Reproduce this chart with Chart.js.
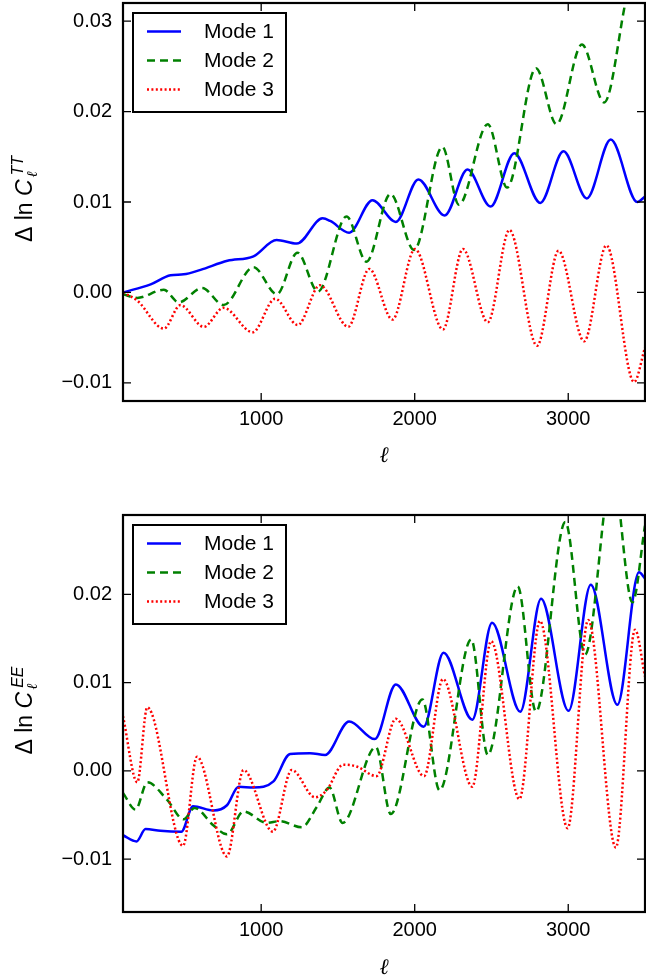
<!DOCTYPE html>
<html>
<head>
<meta charset="utf-8">
<script src="https://cdn.jsdelivr.net/npm/chart.js@4"></script>
<style>
  html, body { margin: 0; padding: 0; background: #fff; overflow: hidden; }
  #wrap { position: relative; width: 646px; height: 980px; overflow: hidden; }
  canvas { position: absolute; left: 0; }
  #ttChart { top: -22px; }
  #eeChart { top: 490px; }
</style>
</head>
<body>
<div id="wrap">
  <canvas id="ttChart" width="646" height="512"></canvas>
  <canvas id="eeChart" width="646" height="500"></canvas>
</div>
<script>
// tick labels
var xTicks = [1000, 2000, 3000];
var ttTicks = [-0.01, 0.00, 0.01, 0.02, 0.03];
var eeTicks = [-0.01, 0.00, 0.01, 0.02];
var modeNames = ['Mode 1', 'Mode 2', 'Mode 3'];

// TT panel (multipole l, delta ln C)
var ttMode1Ell = [100, 280, 410, 495, 605, 780, 950, 1100, 1232, 1400, 1450, 1573, 1725, 1877, 2024, 2195, 2344, 2494, 2649, 2818, 2969, 3121, 3277, 3450, 3500];
var ttMode1 = [0.0000, 0.0009, 0.0019, 0.0020, 0.0025, 0.0035, 0.0040, 0.0058, 0.0054, 0.0082, 0.0079, 0.0066, 0.0102, 0.0078, 0.0125, 0.0085, 0.0136, 0.0095, 0.0154, 0.0099, 0.0156, 0.0104, 0.0169, 0.0100, 0.0106];

var ttMode2Ell = [100, 193, 366, 463, 615, 755, 950, 1102, 1236, 1370, 1556, 1686, 1842, 1996, 2180, 2288, 2476, 2602, 2790, 2924, 3089, 3234, 3421, 3500];
var ttMode2 = [-0.0002, -0.0006, 0.0003, -0.0011, 0.0005, -0.0014, 0.0028, -0.0002, 0.0044, 0.0001, 0.0084, 0.0034, 0.0109, 0.0047, 0.0161, 0.0097, 0.0186, 0.0116, 0.0248, 0.0186, 0.0274, 0.0210, 0.0343, 0.0317];

var ttMode3Ell = [100, 193, 366, 474, 626, 755, 944, 1091, 1238, 1383, 1567, 1704, 1855, 2002, 2184, 2314, 2476, 2617, 2797, 2937, 3104, 3249, 3429, 3500];
var ttMode3 = [0.0000, -0.0009, -0.0040, -0.0014, -0.0038, -0.0017, -0.0044, -0.0007, -0.0036, 0.0008, -0.0038, 0.0026, -0.0030, 0.0048, -0.0041, 0.0048, -0.0033, 0.0069, -0.0059, 0.0046, -0.0054, 0.0052, -0.0099, -0.0061];

// EE panel
var eeMode1Ell = [100, 188, 247, 344, 480, 556, 690, 777, 853, 950, 1080, 1188, 1318, 1416, 1573, 1740, 1877, 2058, 2188, 2375, 2504, 2688, 2823, 3002, 3147, 3320, 3461, 3500];
var eeMode1 = [-0.0073, -0.0080, -0.0066, -0.0068, -0.0069, -0.0040, -0.0045, -0.0039, -0.0018, -0.0019, -0.0012, 0.0019, 0.0020, 0.0018, 0.0056, 0.0036, 0.0098, 0.0050, 0.0134, 0.0058, 0.0168, 0.0067, 0.0195, 0.0068, 0.0211, 0.0075, 0.0225, 0.0218];

var eeMode2Ell = [100, 182, 258, 388, 495, 565, 690, 777, 885, 1037, 1120, 1264, 1362, 1445, 1530, 1747, 1844, 2050, 2162, 2368, 2476, 2671, 2790, 2981, 3110, 3288, 3418, 3500];
var eeMode2 = [-0.0025, -0.0044, -0.0013, -0.0033, -0.0055, -0.0042, -0.0062, -0.0072, -0.0046, -0.0059, -0.0057, -0.0064, -0.0041, -0.0019, -0.0059, 0.0027, -0.0049, 0.0081, -0.0022, 0.0149, 0.0018, 0.0209, 0.0067, 0.0282, 0.0132, 0.0339, 0.0191, 0.0278];

var eeMode3Ell = [100, 193, 258, 491, 582, 777, 885, 1076, 1199, 1351, 1426, 1534, 1621, 1751, 1877, 2061, 2184, 2375, 2498, 2682, 2816, 2996, 3130, 3310, 3435, 3500];
var eeMode3 = [0.0062, -0.0013, 0.0072, -0.0085, 0.0016, -0.0097, 0.0001, -0.0069, 0.0001, -0.0030, -0.0022, 0.0007, 0.0005, -0.0006, 0.0059, -0.0006, 0.0104, -0.0018, 0.0147, -0.0032, 0.0170, -0.0065, 0.0171, -0.0087, 0.0160, 0.0107];

// line styles for the three modes
var modeColors = ['#0000ff', '#008000', '#ff0000'];
var modeDash = [[], [8, 5], [2, 2.4]];

function toPoints(ells, vals) {
    return ells.map(function(l, i) { return { x: l, y: vals[i] }; });
}

function makeSets(series) {
    return series.map(function(s, i) {
        return {
            label: modeNames[i],
            data: toPoints(s[0], s[1]),
            borderColor: modeColors[i],
            borderDash: modeDash[i],
            borderWidth: 2.5,
            borderCapStyle: 'butt',
            cubicInterpolationMode: 'monotone',
            pointRadius: 0,
            fill: false,
            clip: 0,
            order: 2 - i
        };
    });
}

function fmtTick(v) {
    return (v < 0 ? '\u2212' : '') + Math.abs(v).toFixed(2);
}

// frame with inward ticks, legend box and the y label
var panelPlugin = {
    id: 'panel',
    afterDatasetsDraw: function(chart, args, opts) {
        var ctx = chart.ctx, a = chart.chartArea;
        var xs = chart.scales.x, ys = chart.scales.y;
        ctx.save();
        ctx.strokeStyle = '#000';
        ctx.lineWidth = 1.3;
        ctx.beginPath();
        xs.ticks.forEach(function(t) {
            var px = xs.getPixelForValue(t.value);
            ctx.moveTo(px, a.bottom); ctx.lineTo(px, a.bottom - 8);
            ctx.moveTo(px, a.top); ctx.lineTo(px, a.top + 8);
        });
        ys.ticks.forEach(function(t) {
            var py = ys.getPixelForValue(t.value);
            ctx.moveTo(a.left, py); ctx.lineTo(a.left + 8, py);
            ctx.moveTo(a.right, py); ctx.lineTo(a.right - 8, py);
        });
        ctx.stroke();
        ctx.lineWidth = 2.2;
        ctx.strokeRect(a.left, a.top, a.right - a.left, a.bottom - a.top);

        // legend
        var bx = a.left + 10, by = a.top + 10, bw = 153, bh = 99;
        ctx.fillStyle = '#fff';
        ctx.fillRect(bx, by, bw, bh);
        ctx.lineWidth = 2;
        ctx.strokeRect(bx, by, bw, bh);
        chart.data.datasets.forEach(function(ds, i) {
            var y = by + 18.5 + i * 29;
            ctx.beginPath();
            ctx.setLineDash(ds.borderDash);
            ctx.lineWidth = ds.borderWidth;
            ctx.strokeStyle = ds.borderColor;
            ctx.lineCap = 'butt';
            ctx.moveTo(bx + 14, y); ctx.lineTo(bx + 48, y);
            ctx.stroke();
            ctx.setLineDash([]);
            ctx.fillStyle = '#000';
            ctx.font = '21px "Liberation Sans"';
            ctx.textBaseline = 'middle';
            ctx.textAlign = 'left';
            ctx.fillText(ds.label, bx + 71, y + 1);
        });
        ctx.restore();
    },
    afterDraw: function(chart, args, opts) {
        var ctx = chart.ctx, a = chart.chartArea;
        var big = '23px "Liberation Sans"';
        var bigIt = 'italic 23px "Liberation Sans"';
        var small = 'italic 16px "Liberation Sans"';
        var ell = 'italic 15px "DejaVu Serif"';
        ctx.save();
        ctx.font = big; var w1 = ctx.measureText('\u0394 ln ').width;
        ctx.font = bigIt; var w2 = ctx.measureText('C').width;
        ctx.font = small; var w3 = ctx.measureText(opts.sup).width;
        ctx.font = ell; var w4 = ctx.measureText('\u2113').width;
        var total = w1 + w2 + 2 + Math.max(w3 + 2, w4);
        ctx.translate(32, (a.top + a.bottom) / 2 - 3);
        ctx.rotate(-Math.PI / 2);
        ctx.fillStyle = '#000';
        ctx.textBaseline = 'alphabetic';
        ctx.textAlign = 'left';
        var x = -total / 2;
        ctx.font = big; ctx.fillText('\u0394 ln ', x, 0); x += w1;
        ctx.font = bigIt; ctx.fillText('C', x, 0); x += w2 + 2;
        ctx.font = small; ctx.fillText(opts.sup, x + 2, -9);
        ctx.font = ell; ctx.fillText('\u2113', x, 5);
        ctx.restore();
    }
};

function makeChart(id, series, yMin, yMax, yTicks, sup, padTop, xHeight, titlePad) {
    var ctx = document.getElementById(id).getContext('2d');
    return new Chart(ctx, {
        type: 'line',
        data: { datasets: makeSets(series) },
        plugins: [panelPlugin],
        options: {
            responsive: false,
            animation: false,
            layout: { padding: { top: padTop, right: 1, left: 0, bottom: 0 } },
            plugins: {
                legend: { display: false },
                tooltip: { enabled: false },
                panel: { sup: sup }
            },
            scales: {
                x: {
                    type: 'linear',
                    min: 100,
                    max: 3500,
                    grid: { display: false, drawTicks: false },
                    border: { display: false },
                    afterBuildTicks: function(ax) { ax.ticks = xTicks.map(function(v) { return { value: v }; }); },
                    afterFit: function(ax) { ax.height = xHeight; },
                    ticks: {
                        padding: 6,
                        color: '#000',
                        maxRotation: 0,
                        autoSkip: false,
                        font: { family: 'Liberation Sans', size: 20 },
                        callback: function(v) { return String(v); }
                    },
                    title: {
                        display: true,
                        text: '\u2113',
                        color: '#000',
                        padding: { top: 0, bottom: titlePad },
                        font: { family: 'DejaVu Serif', style: 'italic', size: 22 }
                    }
                },
                y: {
                    min: yMin,
                    max: yMax,
                    grid: { display: false, drawTicks: false },
                    border: { display: false },
                    afterBuildTicks: function(ax) { ax.ticks = yTicks.map(function(v) { return { value: v }; }); },
                    afterFit: function(ax) { ax.width = 123; },
                    ticks: {
                        padding: 11,
                        color: '#000',
                        font: { family: 'Liberation Sans', size: 20 },
                        callback: fmtTick
                    }
                }
            }
        }
    });
}

// top canvas starts 22px above the page so its plot frame sits at y = 3
makeChart('ttChart', [[ttMode1Ell, ttMode1], [ttMode2Ell, ttMode2], [ttMode3Ell, ttMode3]],
    -0.012, 0.032, ttTicks, 'TT', 25, 89, 21);
makeChart('eeChart', [[eeMode1Ell, eeMode1], [eeMode2Ell, eeMode2], [eeMode3Ell, eeMode3]],
    -0.016, 0.029, eeTicks, 'EE', 25, 78, 9);
</script>
</body>
</html>
